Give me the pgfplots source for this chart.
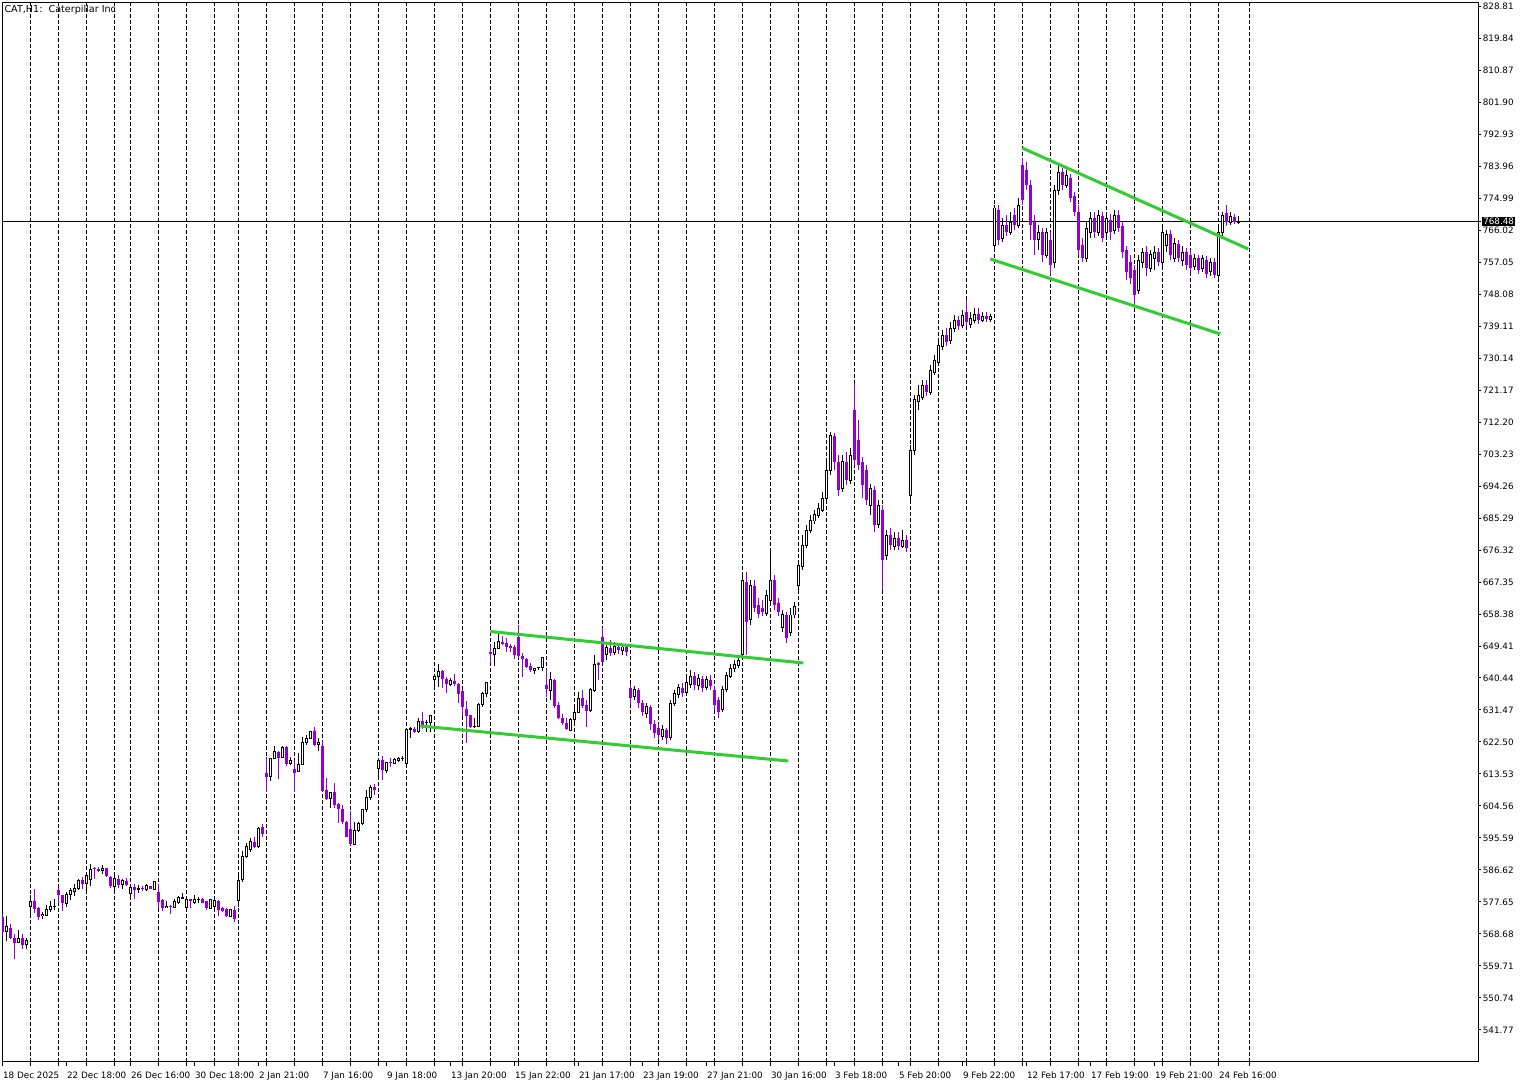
\documentclass[border=0pt]{standalone}
\usepackage{pgfplots}
\pgfplotsset{compat=1.18}
\usepackage{pgfplotstable}
\usepackage{fontspec}
\setmainfont{DejaVu Sans}
\definecolor{bear}{HTML}{9400D3}
\definecolor{chan}{HTML}{32CD32}

\pgfplotstableread{
k o h l c
0 573.44 574.28 568.12 569.30
1 569.24 573.72 566.80 570.92
2 570.27 571.48 567.40 567.47
3 567.47 568.68 561.76 566.24
4 566.35 569.80 566.07 567.47
5 567.47 568.68 564.56 565.51
6 565.79 567.47 564.39 566.91
7 576.33 579.61 573.53 577.84
8 577.84 581.29 574.48 575.69
9 576.05 576.33 572.60 573.53
10 573.86 574.92 572.80 574.28
11 574.00 576.80 573.72 575.60
12 575.60 578.01 574.77 576.52
13 576.33 578.49 575.41 576.38
14 581.09 581.48 577.28 579.52
15 579.61 579.70 575.21 577.28
16 577.28 580.36 576.16 579.80
17 579.69 581.65 578.21 580.92
18 580.73 582.69 579.39 581.48
19 581.37 584.09 581.01 583.73
20 583.82 584.58 581.21 582.61
21 582.78 585.70 580.37 584.95
22 584.01 588.21 582.13 586.81
23 587.10 587.55 584.09 586.82
24 586.90 587.38 586.15 586.34
25 586.42 587.97 585.49 587.10
26 587.26 587.30 584.75 584.94
27 584.75 585.03 581.49 582.23
28 581.95 585.23 580.37 584.11
29 584.01 585.23 581.49 582.42
30 582.61 584.09 581.21 583.54
31 583.54 584.46 582.23 582.42
32 580.08 582.42 579.33 581.77
33 581.95 582.61 578.49 581.02
34 581.29 582.42 580.26 581.30
35 581.57 582.13 580.81 581.37
36 581.29 582.61 580.81 582.21
37 582.21 582.25 581.25 581.29
38 581.29 583.62 581.01 583.34
39 580.54 582.69 575.88 577.73
40 578.21 578.49 575.21 576.05
41 576.05 578.01 576.00 576.52
42 576.52 576.80 574.28 576.16
43 576.16 578.41 575.88 577.73
44 577.45 579.41 577.00 578.85
45 578.69 580.25 578.60 578.97
46 576.05 578.41 575.88 578.21
47 578.41 578.45 575.88 578.01
48 577.45 579.61 577.00 578.41
49 578.41 579.13 577.45 578.42
50 578.41 578.69 577.28 577.45
51 577.93 577.95 575.41 575.88
52 575.88 578.41 575.69 578.21
53 576.33 578.49 575.88 577.93
54 577.93 578.21 573.81 575.41
55 575.88 576.16 574.93 575.21
56 575.60 575.88 573.53 573.72
57 573.72 575.60 573.53 575.41
58 575.41 576.52 572.13 572.80
59 577.93 585.49 576.16 583.63
60 584.01 591.94 583.34 590.34
61 590.54 594.18 589.98 593.34
62 592.23 595.50 591.67 594.55
63 594.55 595.95 592.70 593.15
64 593.15 598.76 592.70 598.31
65 598.59 599.51 595.95 596.71
66 613.89 618.38 608.57 612.77
67 612.77 618.10 611.65 617.93
68 617.93 621.38 617.65 619.78
69 619.70 620.06 612.13 618.10
70 618.10 621.24 617.93 621.01
71 621.01 621.38 615.77 616.33
72 616.53 618.38 616.05 617.26
73 614.93 617.45 608.57 613.89
74 614.18 619.33 614.09 616.33
75 616.25 623.98 616.05 622.41
76 622.41 624.46 621.66 623.53
77 623.53 625.57 623.34 625.38
78 625.57 626.78 621.50 621.66
79 621.85 623.53 620.06 622.41
80 621.38 622.86 608.76 608.85
81 609.04 612.32 606.38 606.52
82 606.72 608.48 603.91 608.40
83 608.40 610.92 603.91 604.84
84 605.12 605.32 599.88 603.63
85 603.72 604.84 599.51 600.00
86 600.16 600.30 595.87 595.95
87 598.11 603.24 593.62 593.82
88 593.82 600.16 593.71 597.83
89 597.83 600.16 597.19 599.71
90 599.71 603.58 599.23 603.44
91 603.44 609.04 602.88 607.08
92 607.08 610.44 606.24 609.88
93 609.88 610.72 607.64 609.04
94 615.12 617.93 611.85 617.45
95 617.45 618.57 611.85 614.65
96 614.65 616.97 613.72 616.69
97 616.81 617.93 615.41 616.53
98 616.53 617.93 616.33 617.73
99 617.45 618.38 616.97 617.93
100 617.93 618.57 617.17 617.95
101 616.53 626.14 616.05 626.14
102 626.14 626.78 623.53 626.16
103 626.14 626.78 624.94 625.38
104 625.58 629.14 624.94 628.38
105 628.38 631.00 626.14 626.78
106 628.02 628.67 625.38 628.04
107 628.02 630.07 625.38 629.79
108 640.07 641.56 637.27 640.99
109 640.80 644.36 638.00 642.40
110 642.40 642.68 637.55 640.07
111 640.16 640.80 636.31 638.67
112 638.67 640.35 638.20 639.60
113 639.60 641.56 638.20 638.67
114 638.76 638.95 633.52 635.96
115 636.80 637.08 629.79 632.39
116 631.75 633.99 622.13 629.87
117 630.07 630.10 626.34 626.62
118 626.78 629.14 626.34 626.80
119 626.78 633.52 626.62 633.15
120 633.15 636.43 632.39 636.15
121 636.15 639.40 635.20 639.13
122 647.81 649.69 644.56 647.08
123 646.89 650.61 643.88 648.76
124 648.76 652.96 648.57 650.61
125 650.61 652.21 649.69 649.88
126 650.16 651.56 647.81 649.21
127 649.41 649.97 647.81 648.93
128 649.05 649.69 645.68 646.89
129 652.02 655.30 645.96 646.61
130 646.61 647.36 640.80 645.68
131 645.77 645.96 643.16 643.61
132 643.80 644.56 642.20 642.68
133 642.48 643.16 641.56 643.16
134 643.33 643.61 642.68 643.35
135 643.44 646.41 642.48 646.24
136 638.48 642.88 635.03 637.36
137 636.88 642.04 634.27 639.88
138 639.88 640.02 631.94 632.59
139 632.87 633.80 628.95 629.14
140 629.31 630.35 627.26 627.74
141 627.91 629.14 625.86 626.14
142 625.86 629.14 625.66 628.67
143 628.67 632.23 627.74 630.82
144 630.82 636.60 630.63 634.75
145 634.75 637.08 631.94 632.59
146 632.87 634.27 626.62 631.28
147 631.28 637.55 631.00 637.08
148 636.88 646.89 636.60 644.36
149 644.56 645.01 639.88 644.08
150 652.02 654.37 644.93 645.01
151 646.89 649.69 645.48 648.85
152 648.85 651.09 646.61 647.45
153 647.45 650.53 646.89 649.41
154 649.13 649.97 647.17 648.29
155 648.01 649.69 646.89 649.13
156 649.13 649.69 646.61 647.73
157 637.64 638.76 632.87 634.83
158 635.12 638.20 634.27 637.08
159 637.08 637.64 632.03 633.43
160 633.43 634.27 629.79 630.91
161 630.35 633.43 629.23 632.59
162 632.31 632.87 625.86 627.55
163 627.55 628.67 623.62 625.02
164 626.42 627.55 623.06 624.46
165 624.18 627.26 623.06 626.14
166 625.86 626.42 621.94 623.62
167 623.90 634.27 623.06 633.43
168 633.43 637.08 632.59 635.96
169 635.68 638.76 634.83 637.64
170 637.64 639.04 635.12 636.24
171 636.24 640.44 635.40 639.04
172 638.48 642.68 637.64 641.00
173 641.00 642.12 637.08 638.48
174 638.20 641.56 637.08 640.16
175 640.16 641.00 636.52 637.64
176 637.64 641.00 637.08 639.88
177 639.88 641.28 637.08 638.20
178 637.08 638.20 631.47 632.87
179 634.27 635.12 629.23 630.91
180 631.47 638.20 630.91 637.08
181 637.08 642.12 636.52 641.28
182 641.00 644.36 640.44 643.24
183 643.24 645.48 642.12 644.36
184 644.08 646.61 643.24 645.48
185 646.89 669.31 646.05 667.90
186 667.34 670.15 646.89 656.14
187 656.70 667.90 655.30 666.50
188 666.22 667.90 658.94 660.06
189 660.90 662.86 657.26 658.38
190 660.06 662.30 657.82 658.94
191 658.66 665.10 657.82 663.70
192 662.30 676.88 660.90 667.90
193 667.90 669.31 659.50 660.90
194 661.46 662.86 657.82 658.94
195 654.46 659.50 653.33 658.38
196 658.10 658.94 650.25 651.65
197 653.33 660.06 652.21 658.10
198 658.10 661.74 657.26 660.62
199 666.50 673.51 665.10 672.11
200 671.83 680.52 670.71 677.72
201 677.72 683.33 676.88 681.92
202 681.92 686.13 681.08 684.73
203 684.45 687.53 683.61 686.41
204 686.13 689.49 685.29 688.09
205 687.53 692.58 686.97 690.89
206 690.89 700.99 690.33 698.74
207 698.74 709.40 697.34 708.28
208 708.28 709.12 698.74 700.99
209 700.99 702.95 691.45 693.14
210 693.70 702.95 692.58 700.99
211 700.99 703.79 694.54 695.94
212 695.94 704.91 694.82 702.95
213 715.56 723.13 700.15 701.55
214 707.16 712.76 698.74 700.15
215 700.99 702.39 690.89 694.54
216 698.74 700.15 688.93 690.33
217 688.93 694.82 686.13 693.70
218 693.14 694.26 681.36 683.33
219 683.33 690.33 682.48 688.93
220 687.53 688.93 665.10 673.51
221 674.91 681.92 673.51 680.52
222 680.52 682.48 676.32 677.72
223 677.44 681.36 676.32 679.68
224 679.68 681.36 676.32 677.44
225 677.44 681.92 676.88 679.12
226 679.12 680.52 675.76 676.88
227 691.73 705.75 690.33 704.35
228 704.35 719.77 702.95 718.37
229 717.81 722.56 715.56 719.77
230 718.93 723.97 718.37 722.56
231 722.56 723.97 719.49 720.61
232 720.61 728.18 719.77 726.77
233 726.21 730.98 725.37 729.58
234 729.02 735.18 728.18 733.78
235 733.50 737.99 732.38 736.58
236 736.58 738.55 733.50 734.62
237 735.18 740.23 734.06 738.55
238 738.55 742.19 737.43 740.79
239 740.79 741.91 737.99 739.11
240 739.39 743.59 738.55 742.19
241 743.03 746.40 739.11 740.23
242 739.67 743.03 738.55 741.35
243 740.79 744.15 739.95 742.47
244 742.47 744.15 739.67 740.79
245 740.79 743.03 740.23 741.91
246 741.91 743.03 740.23 741.07
247 741.07 742.47 740.23 741.91
248 761.81 773.03 760.41 772.19
249 771.63 773.03 761.81 763.22
250 763.78 769.38 762.66 767.42
251 767.42 770.22 764.34 765.46
252 765.46 771.07 764.62 768.26
253 770.22 772.19 766.02 767.42
254 767.42 774.99 766.58 773.03
255 784.24 786.20 773.03 774.43
256 782.84 785.08 777.23 778.63
257 778.63 780.03 763.22 767.42
258 768.26 770.22 759.01 763.22
259 763.22 767.42 760.41 765.46
260 765.46 766.58 757.05 759.01
261 759.01 766.58 758.17 765.46
262 763.22 765.46 753.40 756.21
263 757.05 778.63 755.37 777.23
264 777.23 784.24 775.83 782.28
265 782.28 783.40 777.23 778.63
266 778.63 782.84 777.79 781.44
267 780.59 781.72 773.87 774.99
268 775.55 776.67 769.94 771.07
269 771.07 773.03 759.01 760.41
270 761.81 763.78 757.05 758.17
271 758.17 768.26 757.05 766.58
272 765.46 771.07 763.78 769.38
273 769.38 771.07 763.78 765.46
274 765.46 771.63 764.34 770.22
275 769.94 771.07 762.66 763.78
276 765.46 771.07 764.34 769.38
277 768.82 770.50 763.22 765.46
278 766.02 771.63 764.90 770.22
279 770.22 771.63 765.46 766.58
280 767.14 768.26 758.17 759.85
281 760.41 761.53 752.00 754.25
282 757.05 759.01 750.88 752.56
283 754.81 756.21 744.99 747.80
284 749.17 759.01 748.08 757.61
285 757.05 760.97 755.37 759.85
286 759.85 761.53 753.12 755.37
287 755.37 760.41 754.25 759.29
288 758.17 761.53 754.81 759.85
289 759.85 760.97 755.93 757.05
290 757.05 766.58 755.93 765.46
291 761.81 766.02 759.85 764.90
292 764.90 766.02 757.61 759.01
293 758.17 763.78 757.05 762.10
294 762.10 763.22 757.05 758.17
295 757.61 761.53 755.93 759.85
296 759.85 760.97 754.81 756.21
297 759.01 760.41 754.25 755.37
298 755.93 759.29 754.81 758.17
299 758.17 759.01 753.69 754.81
300 755.37 759.01 754.25 758.17
301 757.61 758.73 752.56 753.69
302 754.25 758.17 753.12 757.05
303 757.05 758.17 752.56 753.40
304 753.40 766.58 752.56 765.46
305 765.46 771.07 764.34 770.22
306 770.78 773.03 767.14 768.26
307 768.26 771.07 767.42 769.94
308 769.66 770.50 767.70 768.26
309 768.26 769.94 767.70 768.48
}\ohlc

\begin{document}
\begin{tikzpicture}
\begin{axis}[
  scale only axis, width=738pt, height=529.5pt,
  xmin=0, xmax=369, ymin=532.88, ymax=829.74,
  axis line style={black, line width=0.5pt},
  tick style={black, line width=0.5pt},
  tick align=outside,
  xtick pos=bottom, ytick pos=right, yticklabel pos=right,
  xtick={0,16,...,304},
  xticklabels={18 Dec 2025,22 Dec 18:00,26 Dec 16:00,30 Dec 18:00,2 Jan 21:00,7 Jan 16:00,9 Jan 18:00,13 Jan 20:00,15 Jan 22:00,21 Jan 17:00,23 Jan 19:00,27 Jan 21:00,30 Jan 16:00,3 Feb 18:00,5 Feb 20:00,9 Feb 22:00,12 Feb 17:00,17 Feb 19:00,19 Feb 21:00,24 Feb 16:00},
  xtick style={/pgfplots/major tick length=2pt},
  ytick style={/pgfplots/major tick length=1.5pt},
  xticklabel style={anchor=north west, inner sep=0pt, xshift=0.2pt, yshift=-0.8pt},
  yticklabel style={anchor=west, inner sep=0pt, xshift=-2.2pt},
  tick label style={font=\fontsize{4.4}{5}\selectfont},
  ytick={541.77,550.74,559.71,568.68,577.65,586.62,595.59,604.56,613.53,622.50,631.47,640.44,649.41,658.38,667.35,676.32,685.29,694.26,703.23,712.20,721.17,730.14,739.11,748.08,757.05,766.02,774.99,783.96,792.93,801.90,810.87,819.84,828.81},
  /pgf/number format/.cd, fixed, fixed zerofill, precision=2, 1000 sep={}, assume math mode=true, /pgfplots/.cd,
  extra x ticks={7.1,14.1,21.1,28.1,32.15,39.1,46.1,53.1,59.1,66.1,73.1,80.1,87.1,94.1,101.1,108.1,115.1,122.1,129.1,136.1,143.1,150.1,157.1,164.1,171.1,178.1,185.1,192.1,199.1,206.1,213.1,220.1,227.1,234.1,241.1,248.1,255.1,262.1,269.1,276.1,283.1,290.1,297.1,304.1,311.75},
  extra x tick labels={},
  extra x tick style={grid=major, major grid style={black, line width=0.5pt, dash pattern=on 2pt off 1pt}, /pgfplots/major tick length=0pt},
  extra y ticks={768.48},
  extra y tick style={yticklabel style={fill=black, text=white, inner sep=0.6pt, xshift=-0.4pt}},
]
% current price line
\addplot[black, line width=0.5pt, mark=none] coordinates {(0,768.48) (369,768.48)};
% bull wicks
\addplot[draw=none, mark=none, forget plot,
  restrict expr to domain={\thisrow{c}-\thisrow{o}}{0:1000},
  error bars/.cd, y dir=minus, y explicit, error mark=none,
  error bar style={black, line width=0.5pt}]
  table[x=k, y=h, y error minus expr=\thisrow{h}-\thisrow{l}] {\ohlc};
% bear wicks
\addplot[draw=none, mark=none, forget plot,
  restrict expr to domain={\thisrow{c}-\thisrow{o}}{-1000:-0.00001},
  error bars/.cd, y dir=minus, y explicit, error mark=none,
  error bar style={bear, line width=0.5pt}]
  table[x=k, y=h, y error minus expr=\thisrow{h}-\thisrow{l}] {\ohlc};
% bull body outline
\addplot[draw=none, mark=none, forget plot,
  restrict expr to domain={\thisrow{c}-\thisrow{o}}{0:1000},
  error bars/.cd, y dir=minus, y explicit, error mark=none,
  error bar style={black, line width=1.5pt}]
  table[x=k, y expr=\thisrow{c}+0.14, y error minus expr=\thisrow{c}-\thisrow{o}+0.28] {\ohlc};
% bull body inside
\addplot[draw=none, mark=none, forget plot,
  restrict expr to domain={\thisrow{c}-\thisrow{o}}{0.3:1000},
  error bars/.cd, y dir=minus, y explicit, error mark=none,
  error bar style={white, line width=0.5pt}]
  table[x=k, y expr=\thisrow{c}-0.14, y error minus expr=\thisrow{c}-\thisrow{o}-0.28] {\ohlc};
% bear body
\addplot[draw=none, mark=none, forget plot,
  restrict expr to domain={\thisrow{c}-\thisrow{o}}{-1000:-0.00001},
  error bars/.cd, y dir=minus, y explicit, error mark=none,
  error bar style={bear, line width=1.5pt}]
  table[x=k, y=o, y error minus expr={max(\thisrow{o}-\thisrow{c},0.28)}] {\ohlc};
% channel lines
\addplot[chan, line width=1.5pt, mark=none] coordinates {(104.5,626.99) (196.5,617.17)};
\addplot[chan, line width=1.5pt, mark=none] coordinates {(122,653.47) (200.25,644.64)};
\addplot[chan, line width=1.5pt, mark=none] coordinates {(255,789.0) (311.5,760.69)};
\addplot[chan, line width=1.5pt, mark=none] coordinates {(247,757.89) (304.5,736.87)};
\node[anchor=north west, inner sep=0pt, font=\fontsize{4.8}{5}\selectfont, xshift=0.9pt, yshift=-1.1pt] at (rel axis cs:0,1) {CAT,H1:\ \ Caterpillar Inc};
\end{axis}
\pgfresetboundingbox
\path[use as bounding box] (-1.15pt,-10.65pt) rectangle (761.85pt,530.85pt);
\end{tikzpicture}
\end{document}
